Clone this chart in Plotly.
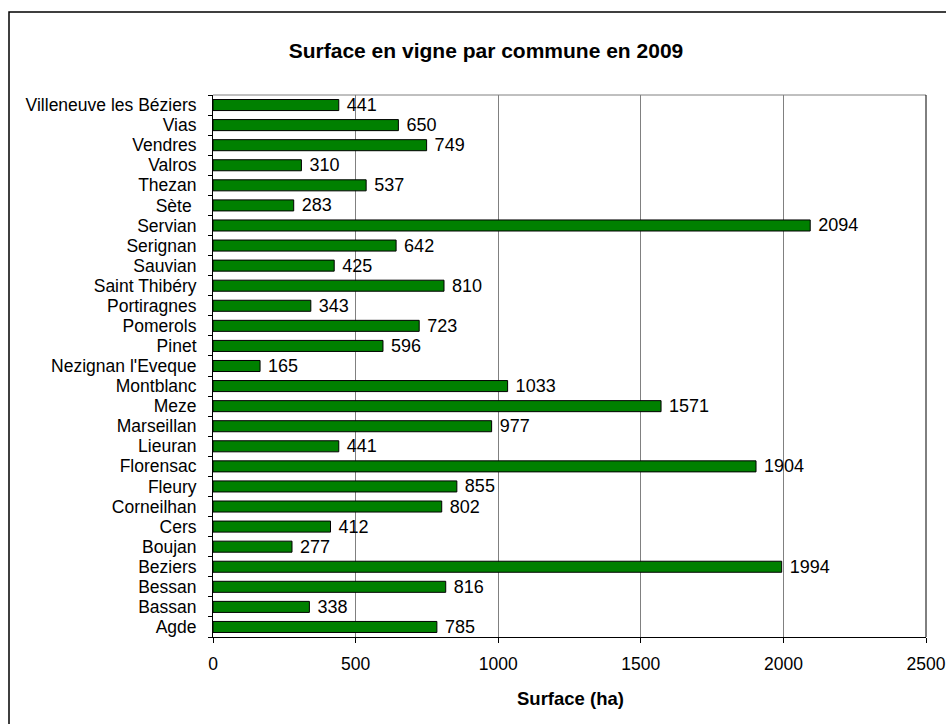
import plotly.graph_objects as go

communes = ["Agde", "Bassan", "Bessan", "Beziers", "Boujan", "Cers", "Corneilhan",
            "Fleury", "Florensac", "Lieuran", "Marseillan", "Meze", "Montblanc",
            "Nezignan l'Eveque", "Pinet", "Pomerols", "Portiragnes", "Saint Thibéry",
            "Sauvian", "Serignan", "Servian", "Sète\u00a0", "Thezan", "Valros", "Vendres",
            "Vias", "Villeneuve les Béziers"]
surface = [785, 338, 816, 1994, 277, 412, 802, 855, 1904, 441, 977, 1571, 1033,
           165, 596, 723, 343, 810, 425, 642, 2094, 283, 537, 310, 749, 650, 441]
x_ticks = [0, 500, 1000, 1500, 2000, 2500]

FONT = "Liberation Sans, Arial, sans-serif"

fig = go.Figure(go.Bar(
    x=surface, y=communes, orientation="h",
    marker=dict(color="#008000", line=dict(color="#000000", width=1)),
    text=[str(v) for v in surface], textposition="outside",
    texttemplate="\u00a0%{text}",
    textfont=dict(family=FONT, size=18, color="#000000"),
    constraintext="none",
    cliponaxis=False,
))

W, H = 946, 724
L, R, T, B = 213, 926, 95, 637
pw, ph = R - L, B - T

def px(x):
    return (x - L) / pw

def py(y):
    return (B - y) / ph

fig.update_layout(
    width=W, height=H,
    margin=dict(l=L, r=W - R, t=T, b=H - B, autoexpand=False),
    paper_bgcolor="white", plot_bgcolor="white",
    font=dict(family=FONT, size=18, color="#000000"),
    bargap=0.45,
    showlegend=False,
    title=dict(text="<b>Surface en vigne par commune en 2009</b>",
               font=dict(family=FONT, size=21, color="#000000"),
               x=486 / W, xanchor="center", y=1 - 51 / H, yanchor="middle"),
    xaxis=dict(range=[0, 2500], tickvals=x_ticks, ticktext=[str(v) for v in x_ticks],
               showgrid=True, gridcolor="#808080", gridwidth=1,
               showline=True, linecolor="#000000", linewidth=1,
               ticks="outside", ticklen=5, tickcolor="#000000",
               tickfont=dict(size=17.5), zeroline=False, ticklabelstandoff=6,
               ticklabeloverflow="allow"),
    yaxis=dict(type="category", showgrid=False,
               tickmode="array", tickvals=communes, ticktext=communes,
               showline=True, linecolor="#000000", linewidth=1,
               ticks="outside", ticklen=4, tickcolor="#000000", tickson="boundaries",
               tickfont=dict(size=17.5), ticklabelstandoff=12),
    annotations=[
        dict(text="<b>Surface (ha)</b>", xref="paper", yref="paper",
             x=px(570), y=py(698), xanchor="center", yanchor="middle",
             showarrow=False, font=dict(family=FONT, size=18.5, color="#000000")),
    ],
    shapes=[
        dict(type="line", xref="paper", yref="paper", x0=0, x1=1, y0=1, y1=1,
             line=dict(color="#808080", width=1)),
        dict(type="line", xref="paper", yref="paper", x0=1, x1=1, y0=0, y1=1,
             line=dict(color="#000000", width=1)),
        dict(type="rect", xref="paper", yref="paper",
             x0=px(9), x1=px(952), y0=py(12), y1=py(732),
             line=dict(color="#000000", width=1.5), fillcolor="rgba(0,0,0,0)"),
    ],
)

fig.write_html("out.html")
